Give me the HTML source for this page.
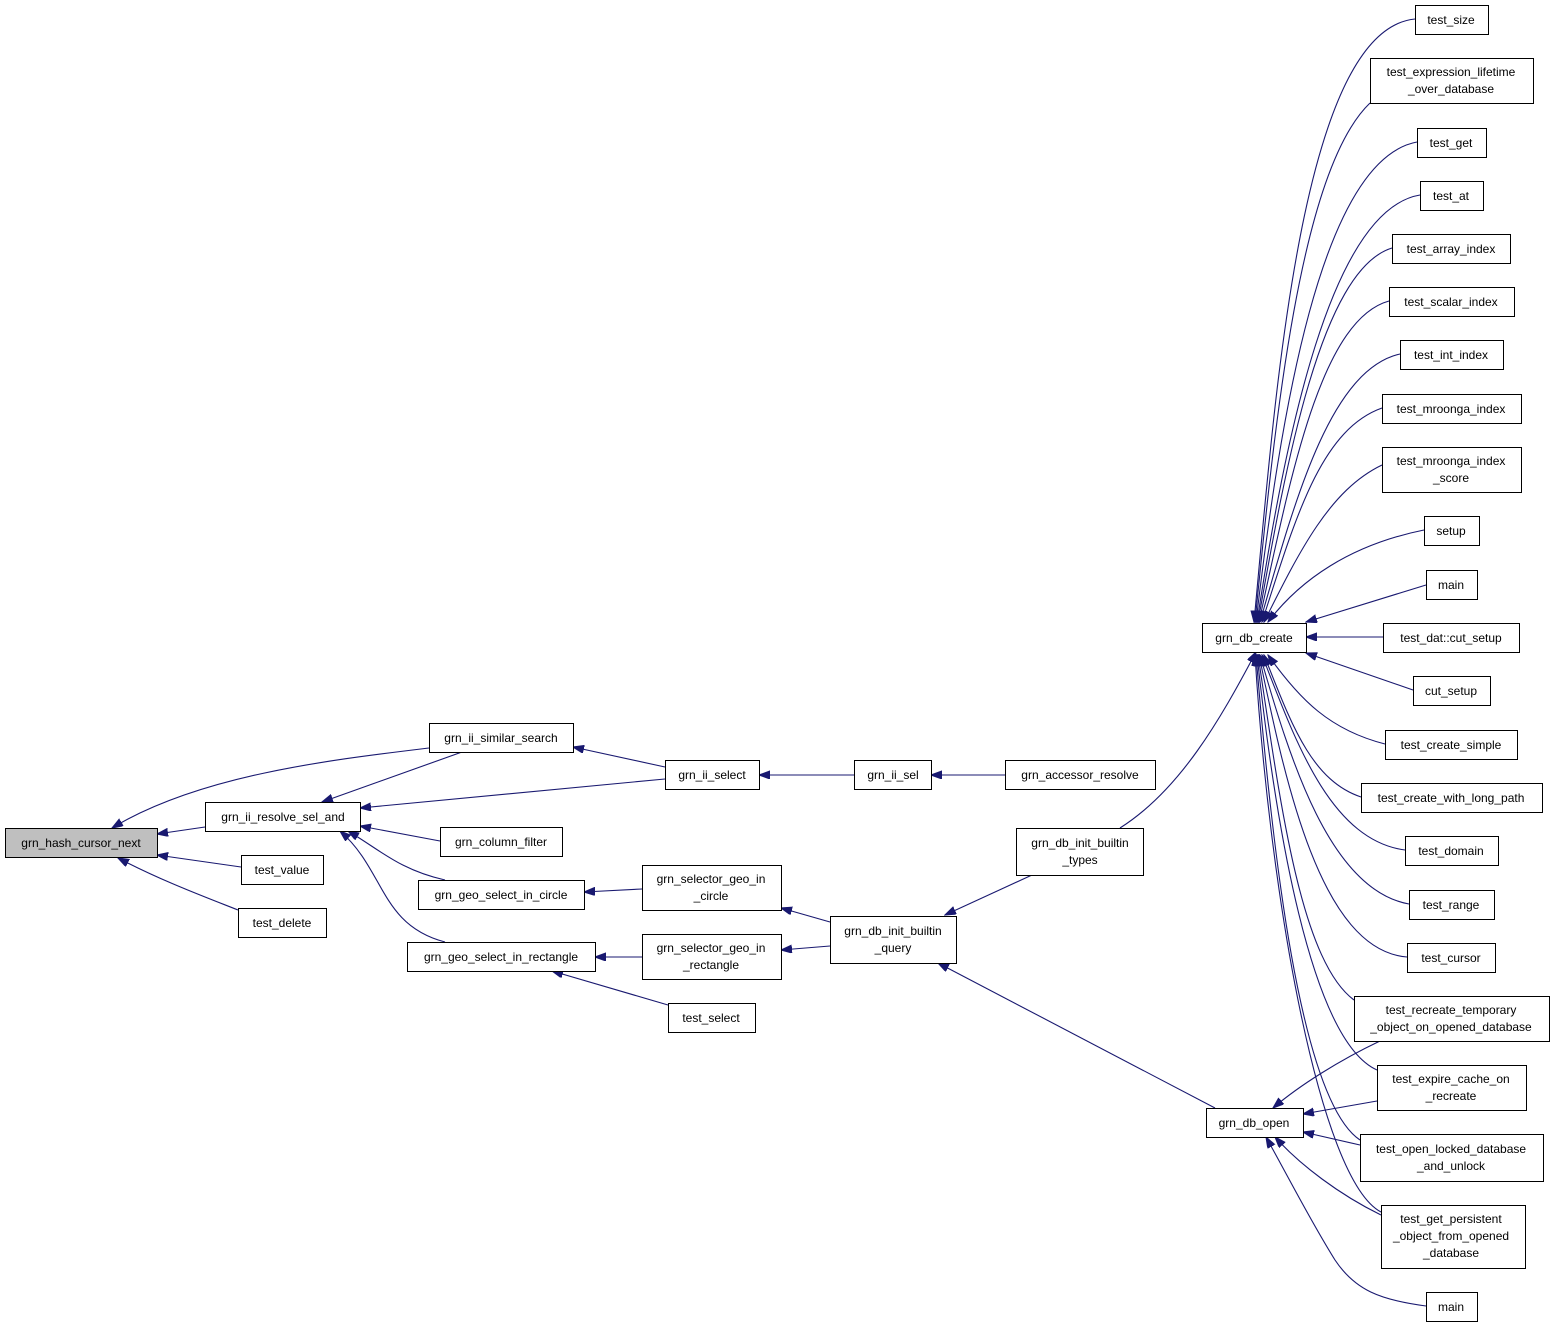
<!DOCTYPE html>
<html><head><meta charset="utf-8"><style>
html,body{margin:0;padding:0;background:#fff;}
svg{display:block}
text{font-family:"Liberation Sans",sans-serif;font-size:12px;fill:#000;text-anchor:middle}
rect{fill:#fff;stroke:#000;stroke-width:1}
path{fill:none;stroke:#191970;stroke-width:1.1}
</style></head><body>
<svg width="1555" height="1328" viewBox="0 0 1555 1328" xmlns="http://www.w3.org/2000/svg">
<defs><marker id="a" markerUnits="userSpaceOnUse" markerWidth="12" markerHeight="10" refX="11" refY="4" orient="auto"><path d="M0,0 L11,4 L0,8 z" style="fill:#191970;stroke:#191970"/></marker></defs>
<g marker-end="url(#a)">
<path d="M429,748 C330,760 200,775 112,828"/>
<path d="M205,827 L157,834"/>
<path d="M241,867 L157,855"/>
<path d="M238,910 C200,895 160,880 118,858"/>
<path d="M462,752 L322,802"/>
<path d="M665,779 L360,808"/>
<path d="M440,841 L360,826"/>
<path d="M445,880 C400,870 380,850 348,831"/>
<path d="M445,942 C380,925 385,870 340,831"/>
<path d="M665,767 L573,747"/>
<path d="M854,775 L759,775"/>
<path d="M1005,775 L931,775"/>
<path d="M642,889 L584,892"/>
<path d="M642,957 L595,957"/>
<path d="M668,1005 L552,971"/>
<path d="M830,922 L781,908"/>
<path d="M830,946 L781,950"/>
<path d="M1032,875 L945,915"/>
<path d="M1215,1108 L938,963"/>
<path d="M1120,828 C1180,790 1220,720 1256,652"/>
<path d="M1415,19 C1300,30 1275,400 1254,622"/>
<path d="M1370,103 C1300,170 1275,420 1255,622"/>
<path d="M1417,142 C1320,160 1280,420 1256,622"/>
<path d="M1420,195 C1330,210 1285,440 1257,622"/>
<path d="M1392,248 C1320,270 1285,470 1258,622"/>
<path d="M1389,301 C1320,320 1290,480 1259,622"/>
<path d="M1400,354 C1330,370 1295,500 1260,622"/>
<path d="M1382,408 C1320,430 1295,520 1262,622"/>
<path d="M1382,465 C1330,490 1300,550 1264,622"/>
<path d="M1424,530 C1350,545 1300,580 1268,622"/>
<path d="M1426,585 L1306,622"/>
<path d="M1383,637 L1306,637"/>
<path d="M1413,690 L1306,653"/>
<path d="M1385,744 C1330,730 1300,700 1268,655"/>
<path d="M1361,797 C1310,780 1290,720 1264,655"/>
<path d="M1405,850 C1330,840 1295,740 1262,655"/>
<path d="M1409,904 C1330,890 1290,760 1260,655"/>
<path d="M1407,957 C1320,950 1285,780 1259,655"/>
<path d="M1354,1000 C1300,960 1280,800 1258,655"/>
<path d="M1377,1070 C1310,1040 1275,820 1257,655"/>
<path d="M1360,1140 C1300,1100 1272,850 1256,655"/>
<path d="M1381,1212 C1320,1180 1270,900 1255,655"/>
<path d="M1380,1041 C1340,1060 1300,1085 1273,1108"/>
<path d="M1377,1101 L1303,1114"/>
<path d="M1360,1145 L1303,1132"/>
<path d="M1381,1215 C1340,1195 1300,1165 1275,1137"/>
<path d="M1426,1306 C1380,1300 1355,1290 1335,1260 C1310,1220 1290,1180 1266,1137"/>
</g>
<rect x="5.5" y="828.5" width="152" height="29" style="fill:#bfbfbf"/><text x="81" y="847">grn_hash_cursor_next</text>
<rect x="429.5" y="723.5" width="144" height="29"/><text x="501" y="742">grn_ii_similar_search</text>
<rect x="205.5" y="802.5" width="155" height="29"/><text x="283" y="821">grn_ii_resolve_sel_and</text>
<rect x="440.5" y="827.5" width="122" height="29"/><text x="501" y="846">grn_column_filter</text>
<rect x="241.5" y="855.5" width="82" height="29"/><text x="282" y="874">test_value</text>
<rect x="238.5" y="908.5" width="88" height="29"/><text x="282" y="927">test_delete</text>
<rect x="418.5" y="880.5" width="166" height="29"/><text x="501" y="899">grn_geo_select_in_circle</text>
<rect x="407.5" y="942.5" width="188" height="29"/><text x="501" y="961">grn_geo_select_in_rectangle</text>
<rect x="668.5" y="1003.5" width="87" height="29"/><text x="711" y="1022">test_select</text>
<rect x="665.5" y="760.5" width="94" height="29"/><text x="712" y="779">grn_ii_select</text>
<rect x="642.5" y="865.5" width="139" height="45"/><text x="711" y="883">grn_selector_geo_in</text><text x="711" y="900">_circle</text>
<rect x="642.5" y="934.5" width="139" height="45"/><text x="711" y="952">grn_selector_geo_in</text><text x="711" y="969">_rectangle</text>
<rect x="830.5" y="916.5" width="126" height="47"/><text x="893" y="935">grn_db_init_builtin</text><text x="893" y="952">_query</text>
<rect x="854.5" y="760.5" width="77" height="29"/><text x="893" y="779">grn_ii_sel</text>
<rect x="1005.5" y="760.5" width="150" height="29"/><text x="1080" y="779">grn_accessor_resolve</text>
<rect x="1016.5" y="828.5" width="127" height="47"/><text x="1080" y="847">grn_db_init_builtin</text><text x="1080" y="864">_types</text>
<rect x="1202.5" y="623.5" width="104" height="29"/><text x="1254" y="642">grn_db_create</text>
<rect x="1206.5" y="1108.5" width="97" height="29"/><text x="1254" y="1127">grn_db_open</text>
<rect x="1415.5" y="5.5" width="73" height="29"/><text x="1451" y="24">test_size</text>
<rect x="1370.5" y="58.5" width="163" height="45"/><text x="1451" y="76">test_expression_lifetime</text><text x="1451" y="93">_over_database</text>
<rect x="1417.5" y="128.5" width="69" height="29"/><text x="1451" y="147">test_get</text>
<rect x="1420.5" y="181.5" width="63" height="29"/><text x="1451" y="200">test_at</text>
<rect x="1392.5" y="234.5" width="118" height="29"/><text x="1451" y="253">test_array_index</text>
<rect x="1389.5" y="287.5" width="125" height="29"/><text x="1451" y="306">test_scalar_index</text>
<rect x="1400.5" y="340.5" width="103" height="29"/><text x="1451" y="359">test_int_index</text>
<rect x="1382.5" y="394.5" width="139" height="29"/><text x="1451" y="413">test_mroonga_index</text>
<rect x="1382.5" y="447.5" width="139" height="45"/><text x="1451" y="465">test_mroonga_index</text><text x="1451" y="482">_score</text>
<rect x="1424.5" y="516.5" width="55" height="29"/><text x="1451" y="535">setup</text>
<rect x="1426.5" y="570.5" width="51" height="29"/><text x="1451" y="589">main</text>
<rect x="1383.5" y="623.5" width="136" height="29"/><text x="1451" y="642">test_dat::cut_setup</text>
<rect x="1413.5" y="676.5" width="77" height="29"/><text x="1451" y="695">cut_setup</text>
<rect x="1385.5" y="730.5" width="132" height="29"/><text x="1451" y="749">test_create_simple</text>
<rect x="1361.5" y="783.5" width="181" height="29"/><text x="1451" y="802">test_create_with_long_path</text>
<rect x="1405.5" y="836.5" width="93" height="29"/><text x="1451" y="855">test_domain</text>
<rect x="1409.5" y="890.5" width="85" height="29"/><text x="1451" y="909">test_range</text>
<rect x="1407.5" y="943.5" width="88" height="29"/><text x="1451" y="962">test_cursor</text>
<rect x="1354.5" y="996.5" width="195" height="45"/><text x="1451" y="1014">test_recreate_temporary</text><text x="1451" y="1031">_object_on_opened_database</text>
<rect x="1377.5" y="1065.5" width="149" height="45"/><text x="1451" y="1083">test_expire_cache_on</text><text x="1451" y="1100">_recreate</text>
<rect x="1360.5" y="1134.5" width="183" height="47"/><text x="1451" y="1153">test_open_locked_database</text><text x="1451" y="1170">_and_unlock</text>
<rect x="1381.5" y="1205.5" width="144" height="63"/><text x="1451" y="1223">test_get_persistent</text><text x="1451" y="1240">_object_from_opened</text><text x="1451" y="1257">_database</text>
<rect x="1426.5" y="1292.5" width="51" height="29"/><text x="1451" y="1311">main</text>
</svg>
</body></html>
